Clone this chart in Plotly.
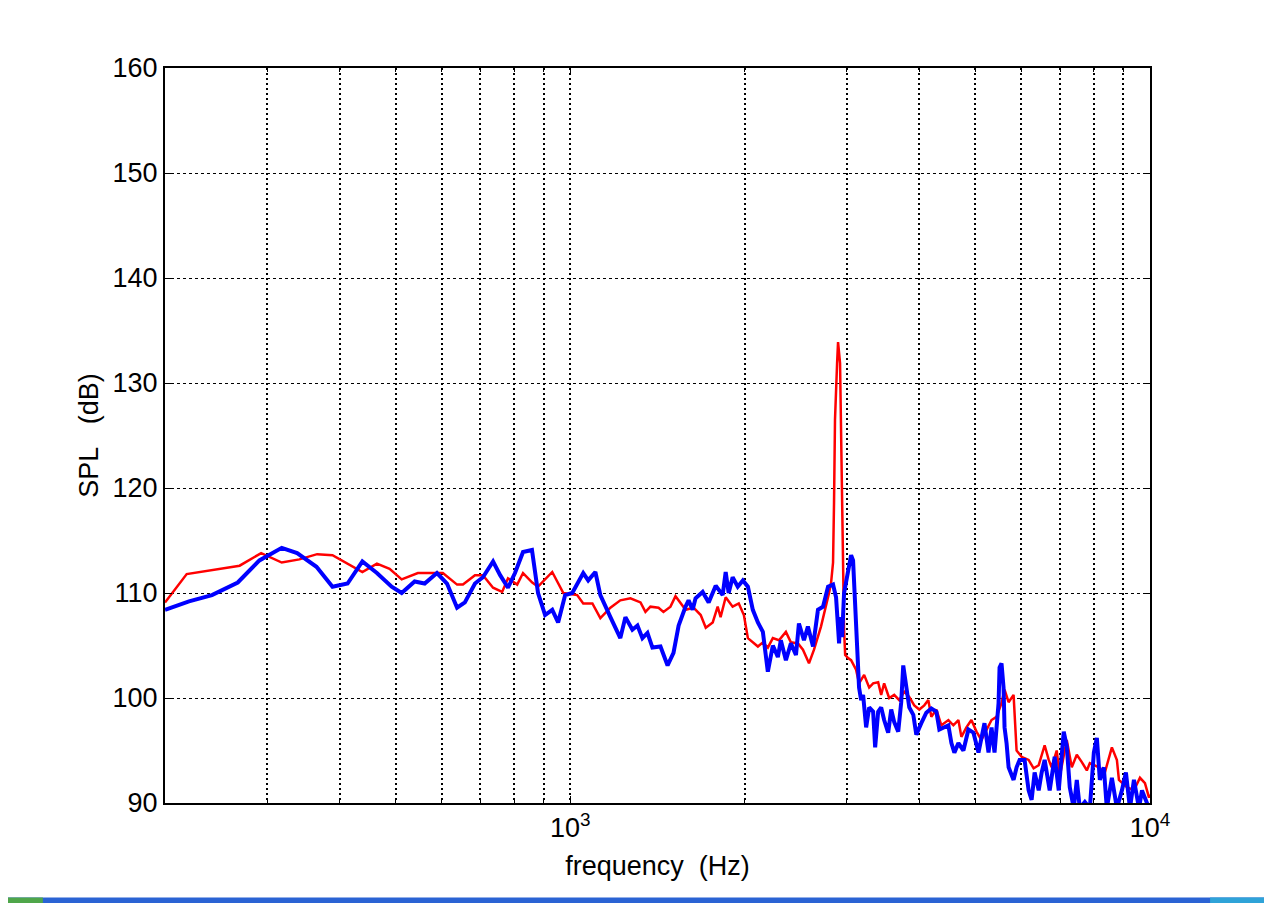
import math
import plotly.graph_objects as go

# ---- data ----
red_freq = [200, 218, 269, 293, 318, 341, 366, 389, 438, 464, 488, 512, 546, 603, 638, 653, 685, 707,
            736, 763, 781, 810, 829, 860, 880, 931, 973, 1028, 1053, 1092, 1127, 1173, 1220, 1270, 1322,
            1348, 1375, 1420, 1448, 1489, 1519, 1550, 1581, 1632, 1679, 1713, 1761, 1796, 1817, 1854,
            1906, 1953, 1993, 2025, 2065, 2107, 2149, 2192, 2236, 2291, 2355, 2402, 2471, 2520, 2581,
            2633, 2707, 2762, 2795, 2818, 2840, 2851, 2862, 2886, 2897, 2920, 2932, 2944, 2955, 2967,
            2980, 3015, 3051, 3087, 3112, 3149, 3213, 3278, 3330, 3397, 3438, 3479, 3549, 3621, 3694,
            3768, 3844, 3921, 4000, 4080, 4146, 4196, 4281, 4367, 4490, 4580, 4672, 4728, 4823, 4920,
            5020, 5120, 5224, 5329, 5436, 5545, 5612, 5703, 5817, 5840, 5887, 6005, 6175, 6299, 6427,
            6581, 6688, 6767, 6904, 6987, 7185, 7330, 7477, 7628, 7781, 7875, 8162, 8358, 8595, 8768,
            8839, 9125, 9382, 9610, 9802, 9961, 10000]
red_spl = [109.1, 111.8, 112.6, 113.8, 112.9, 113.2, 113.7, 113.6, 112.0, 112.8, 112.3, 111.3, 111.9,
           111.9, 110.8, 110.8, 111.7, 111.7, 110.5, 110.1, 111.4, 110.8, 111.9, 111.0, 110.6, 112.0,
           110.0, 109.8, 109.0, 109.0, 107.6, 108.6, 109.3, 109.5, 109.1, 108.2, 108.7, 108.6, 108.2,
           108.7, 109.7, 109.1, 108.4, 108.6, 107.9, 106.7, 107.2, 108.7, 107.7, 109.6, 108.7, 109.0,
           107.9, 105.7, 105.3, 104.9, 105.3, 104.8, 105.7, 105.5, 106.3, 105.3, 105.2, 104.6, 103.3,
           104.6, 106.8, 108.7, 110.0, 111.0, 112.9, 118.6, 126.5, 131.9, 133.9, 131.9, 123.9, 116.0,
           110.3, 106.5, 104.1, 103.8, 103.6, 103.0, 102.7, 101.4, 102.2, 101.0, 101.4, 101.5, 100.3,
           101.4, 100.0, 100.3, 99.8, 100.6, 100.1, 99.3, 98.9, 99.3, 99.8, 98.2, 98.9, 97.4, 97.9,
           97.4, 97.9, 96.3, 97.2, 97.9, 96.8, 96.0, 97.0, 97.9, 98.2, 99.5, 100.8, 99.6, 100.3, 98.6,
           95.0, 94.4, 94.1, 93.3, 93.6, 95.5, 94.1, 93.4, 95.0, 92.5, 96.0, 93.4, 94.6, 93.9, 93.1,
           93.8, 93.4, 92.9, 95.3, 94.1, 92.2, 91.5, 91.2, 92.4, 91.9, 90.5, 90.8]

blue_freq = [200, 220, 241, 267, 291, 318, 338, 365, 389, 413, 438, 464, 492, 512, 539, 550, 561, 589,
             613, 638, 658, 685, 707, 736, 757, 781, 803, 829, 859, 880, 905, 931, 953, 980, 1008, 1053,
             1074, 1105, 1127, 1173, 1220, 1245, 1280, 1306, 1332, 1359, 1386, 1431, 1472, 1507, 1538,
             1581, 1600, 1626, 1645, 1692, 1733, 1782, 1832, 1854, 1876, 1906, 1945, 1985, 2025, 2065,
             2107, 2149, 2175, 2192, 2236, 2281, 2308, 2355, 2402, 2451, 2480, 2530, 2570, 2623, 2675,
             2729, 2784, 2840, 2874, 2897, 2909, 2920, 2944, 2967, 3015, 3051, 3075, 3087, 3112, 3137,
             3149, 3175, 3200, 3239, 3278, 3330, 3357, 3397, 3438, 3479, 3535, 3578, 3621, 3679, 3723,
             3753, 3798, 3844, 3906, 3953, 4032, 4113, 4196, 4281, 4332, 4419, 4490, 4544, 4598, 4672,
             4766, 4862, 4960, 5060, 5120, 5182, 5266, 5329, 5393, 5480, 5502, 5545, 5590, 5612, 5657,
             5703, 5817, 5887, 5958, 6077, 6175, 6249, 6324, 6427, 6503, 6581, 6714, 6848, 6960, 7099,
             7185, 7271, 7388, 7477, 7567, 7720, 7875, 8001, 8097, 8194, 8324, 8424, 8595, 8768, 8944,
             9088, 9235, 9382, 9572, 9687, 9961, 10000]
blue_spl = [108.4, 109.2, 109.8, 111.0, 113.1, 114.3, 113.8, 112.5, 110.6, 110.9, 113.0, 111.9, 110.6,
            110.0, 111.1, 111.0, 110.9, 111.9, 110.9, 108.6, 109.1, 110.9, 111.5, 113.0, 111.7, 110.5,
            111.9, 113.9, 114.1, 110.0, 107.9, 108.4, 107.2, 109.8, 110.0, 111.9, 111.2, 112.0, 109.8,
            107.7, 105.7, 107.7, 106.5, 106.9, 105.7, 106.2, 104.8, 104.9, 103.1, 104.3, 106.9, 108.7,
            109.3, 108.4, 109.5, 110.1, 109.1, 110.7, 109.8, 112.0, 110.0, 111.5, 110.6, 111.2, 110.6,
            108.4, 107.2, 106.3, 103.9, 102.5, 105.0, 103.9, 105.5, 103.6, 105.2, 104.1, 107.1, 105.5,
            106.8, 104.9, 108.4, 108.7, 110.6, 110.8, 109.6, 107.0, 105.2, 107.7, 105.8, 110.0, 112.2,
            113.6, 113.1, 111.0, 106.5, 103.3, 101.0, 99.8, 100.3, 97.2, 99.1, 98.7, 95.3, 98.7, 99.1,
            97.9, 96.7, 98.9, 97.7, 96.8, 99.6, 103.1, 100.8, 99.1, 98.4, 96.5, 97.6, 98.6, 99.0, 98.7,
            97.0, 97.2, 97.4, 95.7, 94.8, 95.7, 95.0, 97.0, 96.7, 94.8, 96.2, 97.6, 94.8, 97.2, 94.8,
            99.5, 102.9, 103.3, 101.0, 97.2, 95.7, 93.4, 92.2, 93.4, 94.1, 94.1, 91.2, 90.3, 92.9, 91.2,
            92.9, 94.1, 91.2, 94.4, 91.2, 96.8, 95.4, 91.5, 89.5, 92.2, 89.5, 90.1, 89.5, 94.8, 96.2,
            92.2, 93.4, 89.5, 92.4, 89.5, 91.2, 92.9, 89.5, 92.2, 89.5, 91.2, 89.5, 89.5]

x_label_vals = [1000, 10000]
x_label_text = ["10<sup>3</sup>", "10<sup>4</sup>"]
x_minor_vals = [300, 400, 500, 600, 700, 800, 900, 2000, 3000, 4000, 5000, 6000, 7000, 8000, 9000]
y_tick_vals = [90, 100, 110, 120, 130, 140, 150, 160]
x_range_hz = [200, 10000]
y_range_db = [90, 160]

fig = go.Figure()
fig.add_trace(go.Scatter(x=red_freq, y=red_spl, mode="lines",
                         line=dict(color="#ff0000", width=2.5), showlegend=False))
fig.add_trace(go.Scatter(x=blue_freq, y=blue_spl, mode="lines",
                         line=dict(color="#0000ff", width=4), showlegend=False))

font = "Liberation Sans, Arial, sans-serif"
fig.update_layout(
    width=1264, height=895,
    margin=dict(l=157, r=122, t=60, b=100),
    paper_bgcolor="white", plot_bgcolor="white",
    font=dict(family=font, size=27, color="black"),
    xaxis=dict(
        type="log",
        range=[math.log10(x_range_hz[0]), math.log10(x_range_hz[1])],
        tickmode="array", tickvals=x_label_vals, ticktext=x_label_text,
        showgrid=True, gridcolor="black", gridwidth=1.5, griddash="2px,3px",
        minor=dict(tickmode="array", tickvals=x_minor_vals, showgrid=True,
                   gridcolor="black", gridwidth=1.5, griddash="2px,3px",
                   ticks="inside", ticklen=4, tickcolor="black"),
        showline=True, linecolor="black", linewidth=2, mirror="allticks",
        ticks="inside", ticklen=7, tickcolor="black", tickwidth=1,
        tickfont=dict(size=27), zeroline=False,
        title=dict(text="frequency\u00a0\u00a0(Hz)", font=dict(size=27), standoff=14),
    ),
    yaxis=dict(
        range=y_range_db,
        tickmode="array", tickvals=y_tick_vals,
        showgrid=True, gridcolor="black", gridwidth=1, griddash="3px,3px",
        showline=True, linecolor="black", linewidth=2, mirror="allticks",
        ticks="inside", ticklen=7, tickcolor="black", tickwidth=1,
        tickfont=dict(size=27), zeroline=False,
        title=dict(text="SPL\u00a0\u00a0\u00a0(dB)", font=dict(size=27), standoff=6),
    ),
)

# taskbar strip at the bottom of the screenshot
fig.add_shape(type="rect", xref="paper", yref="paper",
              x0=-0.17, x1=1.12, y0=-0.1375, y1=-0.1285,
              fillcolor="#2a63d4", line=dict(width=0), layer="above")
fig.add_shape(type="rect", xref="paper", yref="paper",
              x0=-0.17, x1=-0.124, y0=-0.1375, y1=-0.1285,
              fillcolor="#4fa64a", line=dict(width=0), layer="above")
fig.add_shape(type="rect", xref="paper", yref="paper",
              x0=1.061, x1=1.12, y0=-0.1375, y1=-0.1285,
              fillcolor="#2fa3d8", line=dict(width=0), layer="above")

fig.write_html("out.html")
